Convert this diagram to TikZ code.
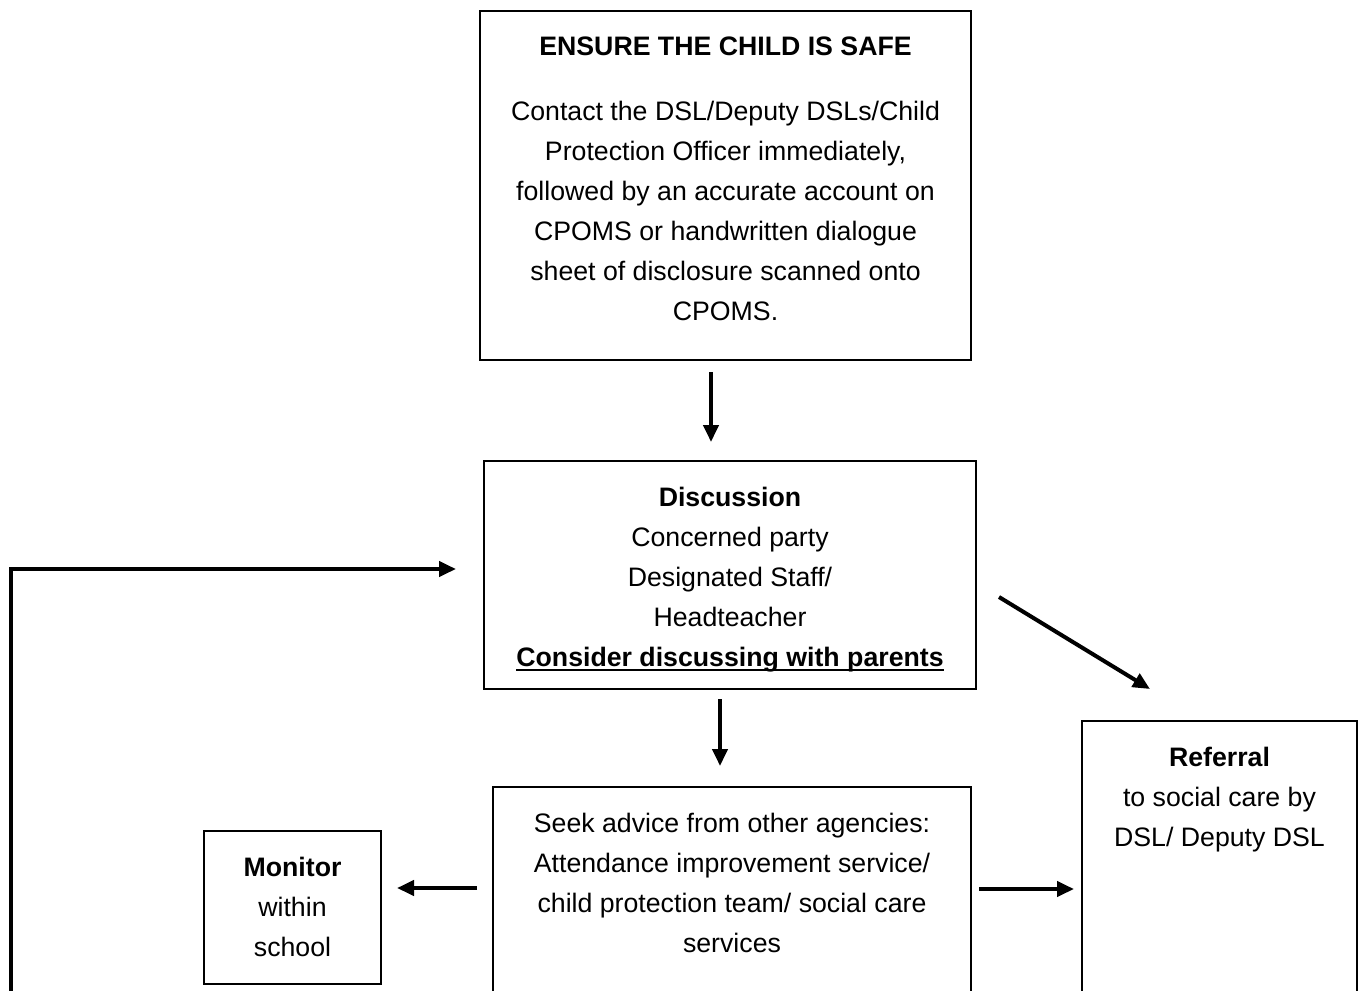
\documentclass[tikz,border=0pt]{standalone}
\usepackage{fontspec}
\setmainfont{Liberation Sans}
\usetikzlibrary{arrows.meta}
\newcommand{\thickul}[1]{\setbox0\hbox{#1}\rlap{\raisebox{-4.5pt}{\rule{\wd0}{2.2pt}}}\box0}
\begin{document}
\begin{tikzpicture}[x=1pt,y=-1pt,
  box/.style={draw=black,line width=1.5pt,rectangle,inner sep=0pt},
  txt/.style={align=center,inner sep=0pt,anchor=north,font=\fontsize{26.7}{40}\selectfont},
  arr/.style={line width=4pt,-{Triangle[length=17pt,width=15pt]}}]
\useasboundingbox (0,0) rectangle (1359,990);
\clip (0,0) rectangle (1359,990);
% boxes
\node[box,minimum width=491pt,minimum height=349pt] (safe) at (725.5,185.5) {};
\node[box,minimum width=492pt,minimum height=228pt] (disc) at (730,575) {};
\node[box,minimum width=478pt,minimum height=223pt] (seek) at (732,898.5) {};
\node[box,minimum width=177pt,minimum height=153pt] (mon) at (292.5,907.5) {};
\node[box,minimum width=275pt,minimum height=289pt] (ref) at (1219.5,865.5) {};
% texts
\node[txt] (safeT) at (725.5,37) {\textbf{ENSURE THE CHILD IS SAFE}};
\node[txt] (safeB) at (725.5,101) {Contact the DSL/Deputy DSLs/Child\\Protection Officer immediately,\\followed by an accurate account on\\CPOMS or handwritten dialogue\\sheet of disclosure scanned onto\\CPOMS.};
\node[txt] (discT) at (730,487) {\textbf{Discussion}\\Concerned party\\Designated Staff/\\Headteacher\\\thickul{\textbf{Consider discussing with parents}}};
\node[txt] (seekT) at (732,813) {Seek advice from other agencies:\\Attendance improvement service/\\child protection team/ social care\\services};
\node[txt] (monT) at (292.5,857) {\textbf{Monitor}\\within\\school};
\node[txt] (refT) at (1219.5,747) {\textbf{Referral}\\to social care by\\DSL/ Deputy DSL};
% connector end points
\coordinate (a1s) at (711,372);
\coordinate (a1e) at (711,442);
\coordinate (a2s) at (720,699);
\coordinate (a2e) at (720,766);
\coordinate (a3s) at (477,888);
\coordinate (a3e) at (397,888);
\coordinate (a4s) at (979,889);
\coordinate (a4e) at (1074,889);
\coordinate (a5s) at (999,597);
\coordinate (a5e) at (1150,689);
\coordinate (l0) at (11,1000);
\coordinate (l1) at (11,569);
\coordinate (l2) at (456,569);
\draw[arr] (a1s) -- (a1e);
\draw[arr] (a2s) -- (a2e);
\draw[arr] (a3s) -- (a3e);
\draw[arr] (a4s) -- (a4e);
\draw[arr] (a5s) -- (a5e);
\draw[arr] (l0) -- (l1) -- (l2);
\end{tikzpicture}
\end{document}
